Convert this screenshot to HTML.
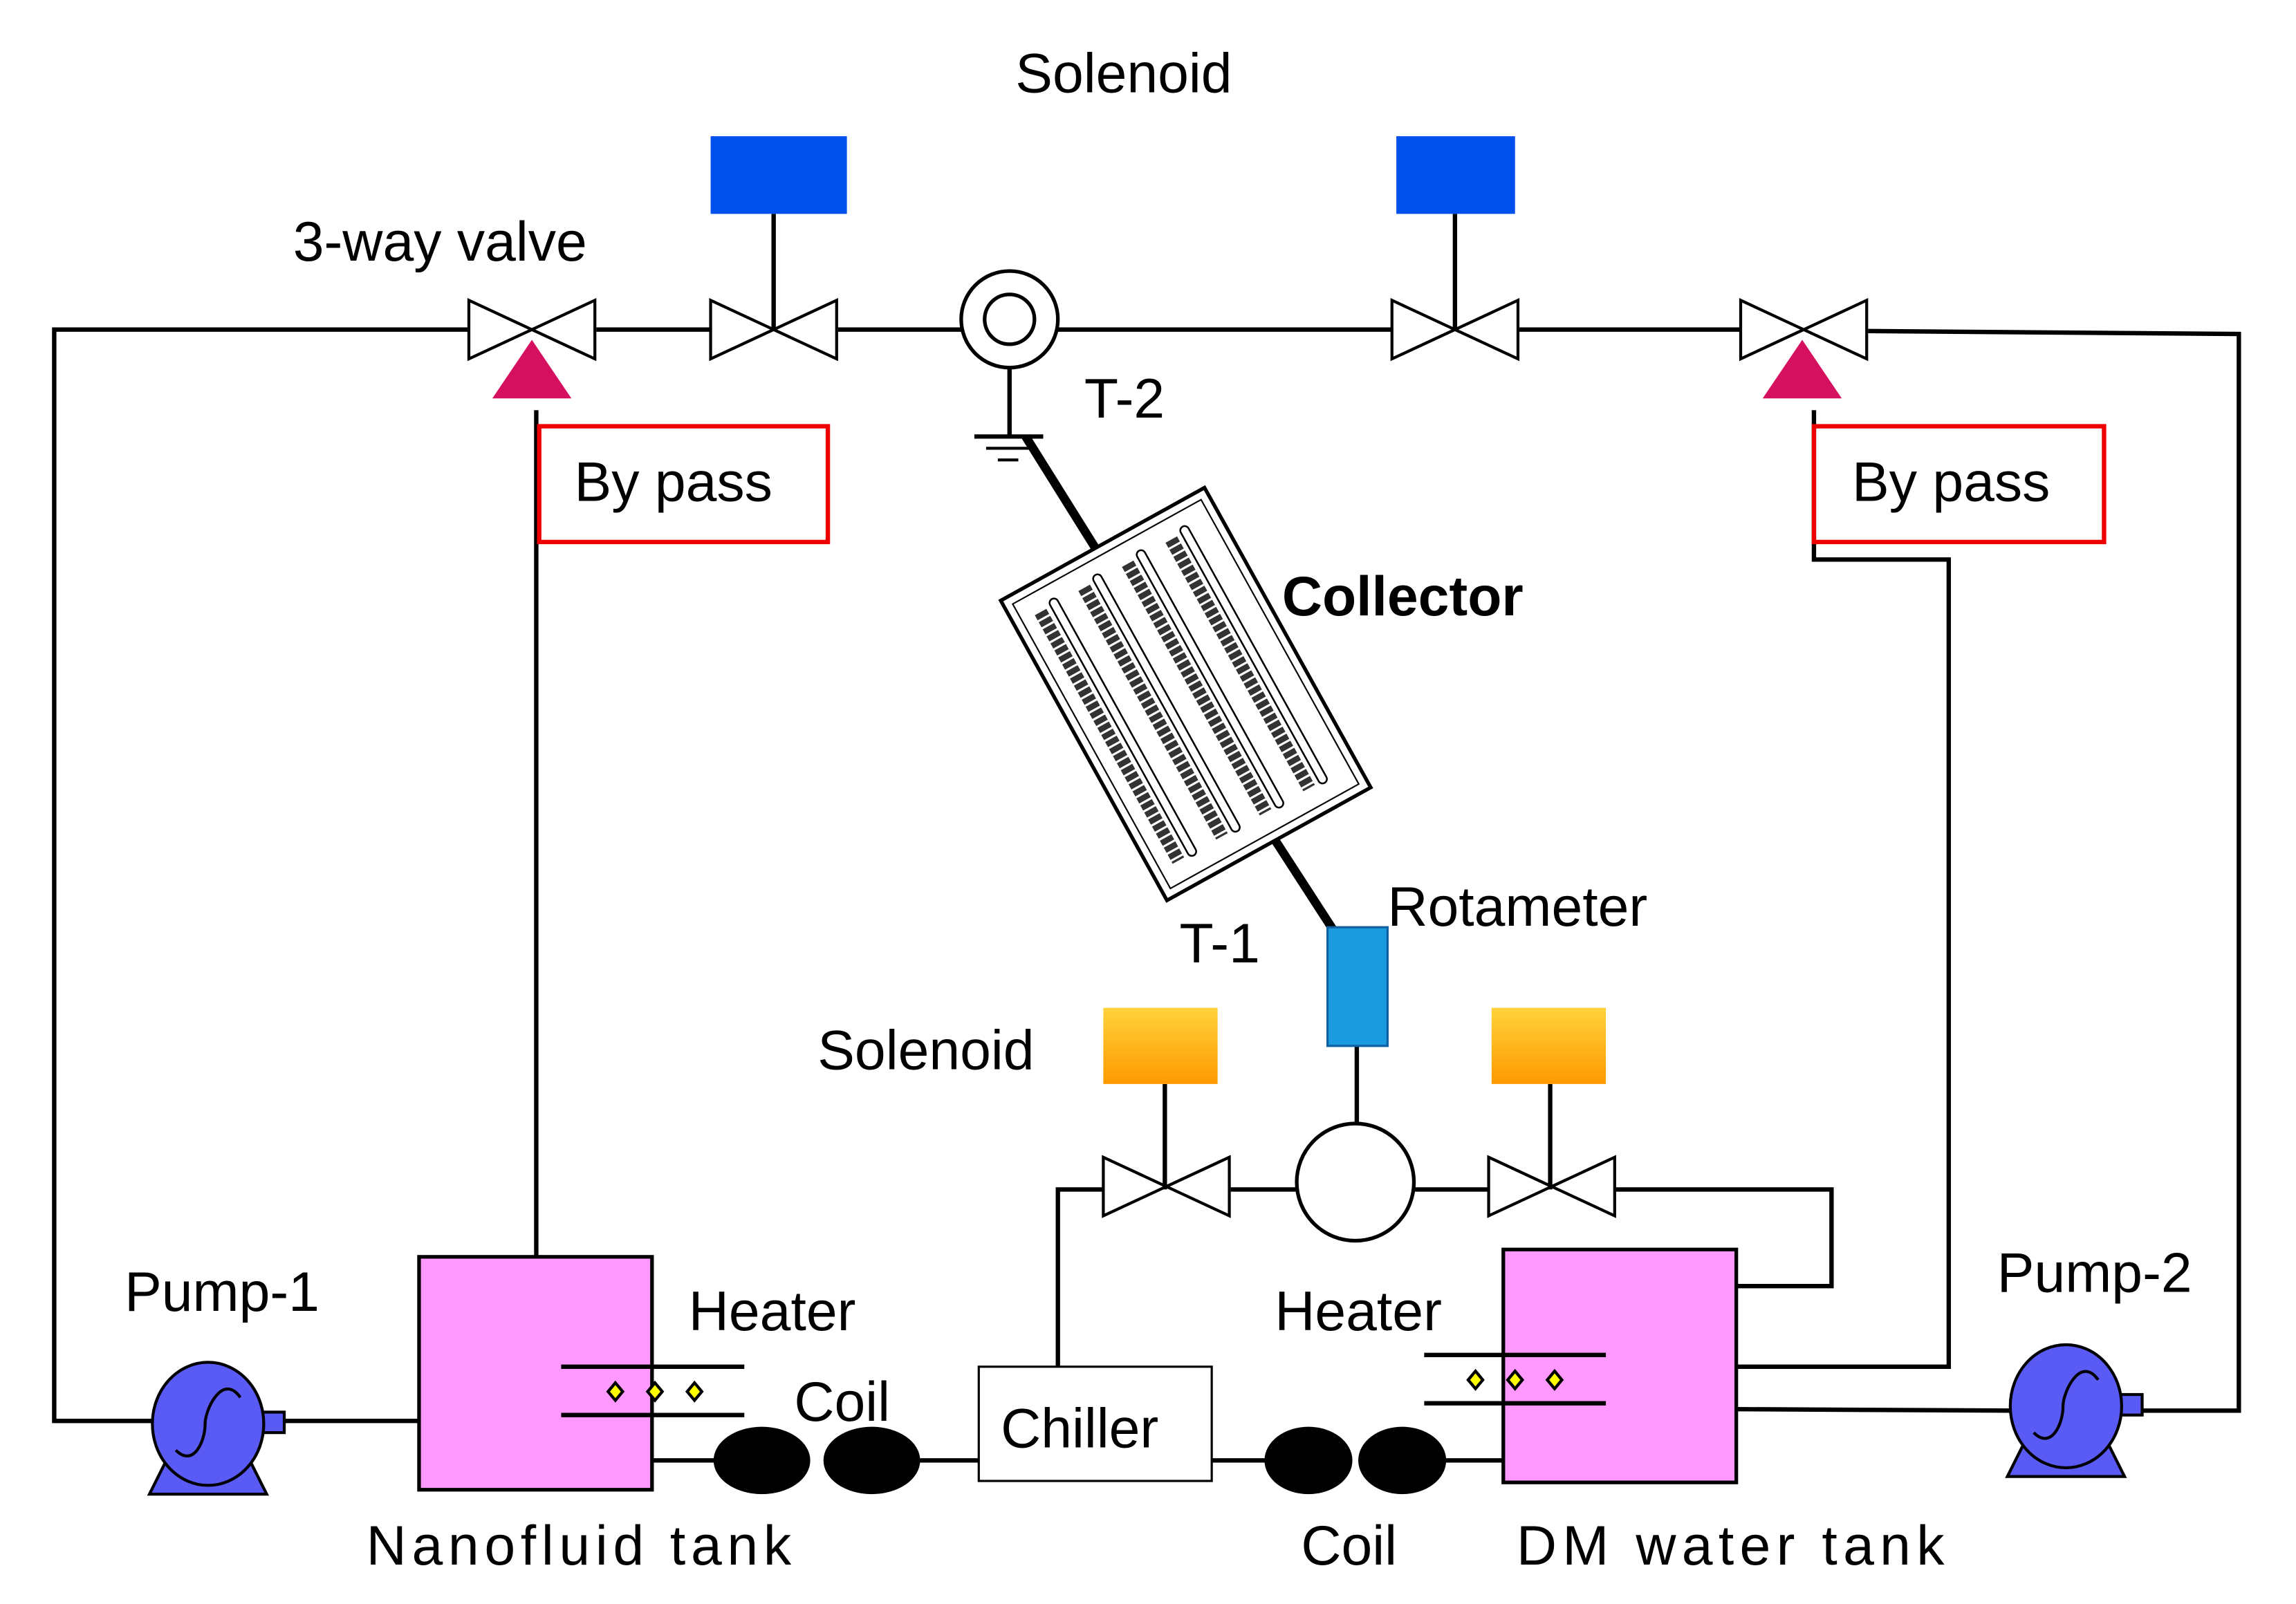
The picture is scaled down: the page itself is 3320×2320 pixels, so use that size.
<!DOCTYPE html>
<html><head><meta charset="utf-8"><style>
html,body{margin:0;padding:0;background:#fff;}
svg{display:block;}
text{font-family:"Liberation Sans",sans-serif;fill:#000;}
</style></head><body>
<svg width="3320" height="2320" viewBox="0 0 1567 1095" preserveAspectRatio="none" xmlns="http://www.w3.org/2000/svg">
<defs>
<linearGradient id="og" x1="0" y1="0" x2="0" y2="1"><stop offset="0" stop-color="#ffd23a"/><stop offset="1" stop-color="#ff9a00"/></linearGradient>
<g id="valve"><path d="M0,-20 L0,20 L43,0 Z M86,-20 L86,20 L43,0 Z" fill="#fff" stroke="#000" stroke-width="2"/></g>
<g id="dia"><path d="M0,-6 L5,0 L0,6 L-5,0 Z" fill="#ff0" stroke="#000" stroke-width="2"/></g>
<g id="pump">
<path d="M-40,48 L40,48 L26,20 L-26,20 Z" fill="#5a5af5" stroke="#000" stroke-width="2"/>
<rect x="30" y="-8" width="22" height="14" fill="#5a5af5" stroke="#000" stroke-width="2"/>
<ellipse cx="0" cy="0" rx="38" ry="42" fill="#5a5af5" stroke="#000" stroke-width="2"/>
<path d="M22,-18 C10,-35 -2,-10 -2,0 C-2,12 -10,30 -22,18" fill="none" stroke="#000" stroke-width="2"/>
</g>
</defs>

<g fill="none" stroke="#000" stroke-width="3">
<polyline points="320,225 37,225 37,970 105,970"/>
<line x1="407" y1="225" x2="485" y2="225"/>
<line x1="572" y1="225" x2="656" y2="225"/>
<line x1="722" y1="225" x2="950" y2="225"/>
<line x1="1037" y1="225" x2="1188" y2="225"/>
<polyline points="1275,226 1528,228 1528,963 1460,963"/>
<line x1="190" y1="970" x2="286" y2="970"/>
<line x1="1185" y1="962" x2="1375" y2="963"/>
<line x1="366" y1="280" x2="366" y2="858"/>
<polyline points="1238,280 1238,382 1330,382 1330,933 1185,933"/>
<line x1="528" y1="146" x2="528" y2="225"/>
<line x1="993" y1="146" x2="993" y2="225"/>
<line x1="689" y1="251" x2="689" y2="298"/>
<line x1="665" y1="298" x2="712" y2="298"/>
<line x1="673" y1="306" x2="703" y2="306" stroke-width="2"/>
<line x1="681" y1="314" x2="695" y2="314" stroke-width="2"/>
<line x1="445" y1="997" x2="490" y2="997"/>
<line x1="625" y1="997" x2="668" y2="997"/>
<line x1="827" y1="997" x2="865" y2="997"/>
<line x1="985" y1="997" x2="1026" y2="997"/>
<polyline points="722,933 722,812 753,812"/>
<line x1="840" y1="812" x2="885" y2="812"/>
<line x1="965" y1="812" x2="1016" y2="812"/>
<polyline points="1103,812 1250,812 1250,878 1145,878"/>
<line x1="795" y1="740" x2="795" y2="812"/>
<line x1="1058" y1="740" x2="1058" y2="812"/>
<line x1="926" y1="714" x2="926" y2="767"/>
</g>
<line x1="700" y1="298" x2="750" y2="378" stroke="#000" stroke-width="6"/>
<line x1="866" y1="567" x2="910" y2="635" stroke="#000" stroke-width="6"/>

<use href="#valve" x="320" y="225"/>
<use href="#valve" x="485" y="225"/>
<use href="#valve" x="950" y="225"/>
<use href="#valve" x="1188" y="225"/>
<use href="#valve" x="753" y="810"/>
<use href="#valve" x="1016" y="810"/>
<path d="M363,232 L390,272 L336,272 Z" fill="#d4105f"/>
<path d="M1230,232 L1257,272 L1203,272 Z" fill="#d4105f"/>

<rect x="485" y="93" width="93" height="53" fill="#0050ee"/>
<rect x="953" y="93" width="81" height="53" fill="#0050ee"/>
<rect x="753" y="688" width="78" height="52" fill="url(#og)"/>
<rect x="1018" y="688" width="78" height="52" fill="url(#og)"/>

<circle cx="689" cy="218" r="33" fill="#fff" stroke="#000" stroke-width="2.5"/>
<circle cx="689" cy="218" r="17" fill="#fff" stroke="#000" stroke-width="2.5"/>

<rect x="368" y="291" width="197" height="79" fill="none" stroke="#e00" stroke-width="3"/>
<rect x="1238" y="291" width="198" height="79" fill="none" stroke="#e00" stroke-width="3"/>

<g transform="translate(683,410) rotate(-29)">
<rect x="0" y="0" width="159" height="234" fill="#fff" stroke="#000" stroke-width="2.5"/>
<rect x="6" y="6" width="147" height="222" fill="none" stroke="#000" stroke-width="1"/>
<g stroke="#333" stroke-width="9" stroke-dasharray="4,1.5">
<line x1="20" y1="20" x2="20" y2="214"/>
<line x1="54" y1="20" x2="54" y2="214"/>
<line x1="88" y1="20" x2="88" y2="214"/>
<line x1="122" y1="20" x2="122" y2="214"/>
</g>
<g fill="none" stroke="#000" stroke-width="1.2">
<rect x="28" y="16" width="6" height="200" rx="3"/>
<rect x="62" y="16" width="6" height="200" rx="3"/>
<rect x="96" y="16" width="6" height="200" rx="3"/>
<rect x="130" y="16" width="6" height="200" rx="3"/>
</g>
</g>

<rect x="906" y="633" width="41" height="81" fill="#1a9be0" stroke="#1060a0" stroke-width="1.5"/>
<circle cx="925" cy="807" r="40" fill="#fff" stroke="#000" stroke-width="2.5"/>

<rect x="286" y="858" width="159" height="159" fill="#ff99ff" stroke="#000" stroke-width="2.5"/>
<rect x="1026" y="853" width="159" height="159" fill="#ff99ff" stroke="#000" stroke-width="2.5"/>
<g stroke="#000" stroke-width="3">
<line x1="383" y1="933" x2="508" y2="933"/><line x1="383" y1="966" x2="508" y2="966"/>
<line x1="972" y1="925" x2="1096" y2="925"/><line x1="972" y1="958" x2="1096" y2="958"/>
</g>
<use href="#dia" x="420" y="950"/><use href="#dia" x="447" y="950"/><use href="#dia" x="474" y="950"/>
<use href="#dia" x="1007" y="942"/><use href="#dia" x="1034" y="942"/><use href="#dia" x="1061" y="942"/>

<ellipse cx="520" cy="997" rx="33" ry="23" fill="#000"/>
<ellipse cx="595" cy="997" rx="33" ry="23" fill="#000"/>
<ellipse cx="893" cy="997" rx="30" ry="23" fill="#000"/>
<ellipse cx="957" cy="997" rx="30" ry="23" fill="#000"/>

<rect x="668" y="933" width="159" height="78" fill="#fff" stroke="#000" stroke-width="1.5"/>

<use href="#pump" x="142" y="972"/>
<use href="#pump" x="1410" y="960"/>

<g font-size="38">
<text x="693" y="63">Solenoid</text>
<text x="200" y="178">3-way valve</text>
<text x="740" y="285">T-2</text>
<text x="392" y="342">By pass</text>
<text x="1264" y="342">By pass</text>
<text x="875" y="420" font-weight="bold">Collector</text>
<text x="947" y="632">Rotameter</text>
<text x="805" y="657">T-1</text>
<text x="558" y="730">Solenoid</text>
<text x="85" y="895">Pump-1</text>
<text x="1363" y="882">Pump-2</text>
<text x="470" y="908">Heater</text>
<text x="870" y="908">Heater</text>
<text x="542" y="970">Coil</text>
<text x="683" y="988">Chiller</text>
<text x="250" y="1068" textLength="290">Nanofluid tank</text>
<text x="888" y="1068">Coil</text>
<text x="1035" y="1068" textLength="292">DM water tank</text>
</g>
</svg>
</body></html>
